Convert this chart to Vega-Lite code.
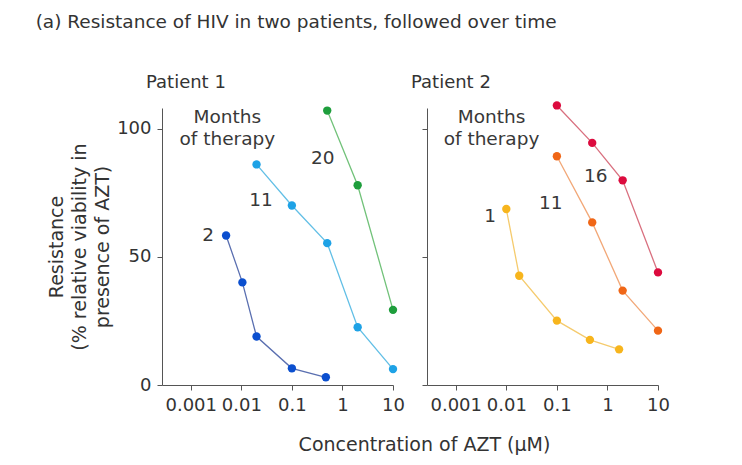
{
  "$schema": "https://vega.github.io/schema/vega-lite/v6.json",
  "padding": {"left": 35, "top": 12, "right": 5, "bottom": 5},
  "title": {"text": "(a) Resistance of HIV in two patients, followed over time", "anchor": "start", "frame": "bounds", "dx": -12, "fontSize": 18.5, "fontWeight": "normal", "font": "DejaVu Sans", "color": "#333333", "offset": 43},
  "datasets": {
    "pts": [
      {"patient": "Patient 1", "series": "P1-2", "conc": 0.005, "resistance": 58.3},
      {"patient": "Patient 1", "series": "P1-2", "conc": 0.0105, "resistance": 40},
      {"patient": "Patient 1", "series": "P1-2", "conc": 0.02, "resistance": 18.9},
      {"patient": "Patient 1", "series": "P1-2", "conc": 0.1, "resistance": 6.5},
      {"patient": "Patient 1", "series": "P1-2", "conc": 0.47, "resistance": 3},
      {"patient": "Patient 1", "series": "P1-11", "conc": 0.02, "resistance": 86},
      {"patient": "Patient 1", "series": "P1-11", "conc": 0.1, "resistance": 70},
      {"patient": "Patient 1", "series": "P1-11", "conc": 0.5, "resistance": 55.3},
      {"patient": "Patient 1", "series": "P1-11", "conc": 2, "resistance": 22.5},
      {"patient": "Patient 1", "series": "P1-11", "conc": 10, "resistance": 6.2},
      {"patient": "Patient 1", "series": "P1-20", "conc": 0.5, "resistance": 107},
      {"patient": "Patient 1", "series": "P1-20", "conc": 2, "resistance": 77.9},
      {"patient": "Patient 1", "series": "P1-20", "conc": 10, "resistance": 29.3},
      {"patient": "Patient 2", "series": "P2-1", "conc": 0.01, "resistance": 68.6},
      {"patient": "Patient 2", "series": "P2-1", "conc": 0.018, "resistance": 42.6},
      {"patient": "Patient 2", "series": "P2-1", "conc": 0.1, "resistance": 25.1},
      {"patient": "Patient 2", "series": "P2-1", "conc": 0.45, "resistance": 17.6},
      {"patient": "Patient 2", "series": "P2-1", "conc": 1.7, "resistance": 13.9},
      {"patient": "Patient 2", "series": "P2-11", "conc": 0.1, "resistance": 89.2},
      {"patient": "Patient 2", "series": "P2-11", "conc": 0.5, "resistance": 63.4},
      {"patient": "Patient 2", "series": "P2-11", "conc": 2, "resistance": 36.8},
      {"patient": "Patient 2", "series": "P2-11", "conc": 10, "resistance": 21.2},
      {"patient": "Patient 2", "series": "P2-16", "conc": 0.1, "resistance": 109},
      {"patient": "Patient 2", "series": "P2-16", "conc": 0.5, "resistance": 94.4},
      {"patient": "Patient 2", "series": "P2-16", "conc": 2, "resistance": 79.8},
      {"patient": "Patient 2", "series": "P2-16", "conc": 10, "resistance": 43.9}
    ],
    "labels": [
      {"patient": "Patient 1", "text": "Months", "conc": 0.0053, "resistance": 104.3},
      {"patient": "Patient 1", "text": "of therapy", "conc": 0.0053, "resistance": 95.9},
      {"patient": "Patient 1", "text": "2", "conc": 0.0022, "resistance": 58.3},
      {"patient": "Patient 1", "text": "11", "conc": 0.0245, "resistance": 72.3},
      {"patient": "Patient 1", "text": "20", "conc": 0.41, "resistance": 88.5},
      {"patient": "Patient 2", "text": "Months", "conc": 0.0051, "resistance": 104.3},
      {"patient": "Patient 2", "text": "of therapy", "conc": 0.0051, "resistance": 95.9},
      {"patient": "Patient 2", "text": "1", "conc": 0.0048, "resistance": 66},
      {"patient": "Patient 2", "text": "11", "conc": 0.076, "resistance": 71},
      {"patient": "Patient 2", "text": "16", "conc": 0.59, "resistance": 81.4}
    ]
  },
  "spacing": 34,
  "bounds": "flush",
  "hconcat": [
    {
      "title": {"text": "Patient 1", "anchor": "start", "frame": "group", "dx": -16, "fontSize": 18, "fontWeight": "normal", "font": "DejaVu Sans", "color": "#333333", "offset": 14},
      "width": 231,
      "height": 277,
      "layer": [
        {
          "data": {"name": "pts"},
          "transform": [{"filter": "datum.patient === 'Patient 1'"}],
          "mark": {"type": "line", "strokeWidth": 1.3},
          "encoding": {
            "x": {"field": "conc", "type": "quantitative", "scale": {"type": "log", "domain": [0.00027, 10], "nice": false},
              "axis": {"values": [0.001, 0.01, 0.1, 1, 10], "format": ".3~f", "title": "Concentration of AZT (μM)", "titleX": 262, "titlePadding": 21}},
            "y": {"field": "resistance", "type": "quantitative", "scale": {"domain": [0, 108], "nice": false},
              "axis": {"values": [0, 50, 100], "title": ["Resistance", "(% relative viability in", "presence of AZT)"], "titlePadding": 4}},
            "stroke": {"field": "series", "type": "nominal", "legend": null,
              "scale": {"domain": ["P1-2", "P1-11", "P1-20", "P2-1", "P2-11", "P2-16"], "range": ["#5a6fb0", "#62bfe6", "#72c27a", "#f5cb6e", "#f2a878", "#d9707f"]}}
          }
        },
        {
          "data": {"name": "pts"},
          "transform": [{"filter": "datum.patient === 'Patient 1'"}],
          "mark": {"type": "point", "filled": true, "size": 70, "opacity": 1},
          "encoding": {
            "x": {"field": "conc", "type": "quantitative"},
            "y": {"field": "resistance", "type": "quantitative"},
            "fill": {"field": "series", "type": "nominal", "legend": null,
              "scale": {"domain": ["P1-2", "P1-11", "P1-20", "P2-1", "P2-11", "P2-16"], "range": ["#0b4fcf", "#1ea2e6", "#1e9e3c", "#f7b51d", "#f06616", "#dc0b3e"]}}
          }
        },
        {
          "data": {"name": "labels"},
          "transform": [{"filter": "datum.patient === 'Patient 1'"}],
          "mark": {"type": "text", "fontSize": 18.5, "font": "DejaVu Sans", "color": "#383838", "align": "center", "baseline": "middle"},
          "encoding": {
            "x": {"field": "conc", "type": "quantitative"},
            "y": {"field": "resistance", "type": "quantitative"},
            "text": {"field": "text"}
          }
        }
      ]
    },
    {
      "title": {"text": "Patient 2", "anchor": "start", "frame": "group", "dx": -16, "fontSize": 18, "fontWeight": "normal", "font": "DejaVu Sans", "color": "#333333", "offset": 9},
      "width": 231,
      "height": 277,
      "layer": [
        {
          "data": {"name": "pts"},
          "transform": [{"filter": "datum.patient === 'Patient 2'"}],
          "mark": {"type": "line", "strokeWidth": 1.3},
          "encoding": {
            "x": {"field": "conc", "type": "quantitative", "scale": {"type": "log", "domain": [0.00027, 10], "nice": false},
              "axis": {"values": [0.001, 0.01, 0.1, 1, 10], "format": ".3~f", "title": null}},
            "y": {"field": "resistance", "type": "quantitative", "scale": {"domain": [0, 108], "nice": false},
              "axis": {"values": [0, 50, 100], "labels": false, "title": null}},
            "stroke": {"field": "series", "type": "nominal", "legend": null}
          }
        },
        {
          "data": {"name": "pts"},
          "transform": [{"filter": "datum.patient === 'Patient 2'"}],
          "mark": {"type": "point", "filled": true, "size": 70, "opacity": 1},
          "encoding": {
            "x": {"field": "conc", "type": "quantitative"},
            "y": {"field": "resistance", "type": "quantitative"},
            "fill": {"field": "series", "type": "nominal", "legend": null}
          }
        },
        {
          "data": {"name": "labels"},
          "transform": [{"filter": "datum.patient === 'Patient 2'"}],
          "mark": {"type": "text", "fontSize": 18.5, "font": "DejaVu Sans", "color": "#383838", "align": "center", "baseline": "middle"},
          "encoding": {
            "x": {"field": "conc", "type": "quantitative"},
            "y": {"field": "resistance", "type": "quantitative"},
            "text": {"field": "text"}
          }
        }
      ]
    }
  ],
  "config": {
    "view": {"stroke": null},
    "axis": {
      "grid": false,
      "domainColor": "#555555",
      "tickColor": "#555555",
      "tickSize": 5,
      "labelFont": "DejaVu Sans",
      "labelFontSize": 18,
      "labelColor": "#333333",
      "titleFont": "DejaVu Sans",
      "titleFontSize": 19,
      "titleFontWeight": "normal",
      "titleColor": "#333333",
      "titleLineHeight": 23
    },
    "axisX": {"labelPadding": 6, "labelFlush": false},
    "axisY": {"labelPadding": 6}
  }
}
